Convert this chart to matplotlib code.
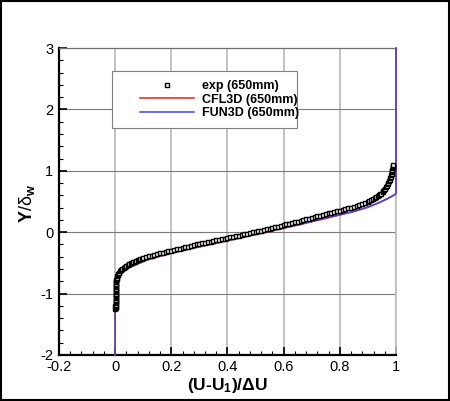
import matplotlib
matplotlib.use("Agg")
import matplotlib.pyplot as plt
from matplotlib.patches import Rectangle
from matplotlib.ticker import MultipleLocator, FixedLocator, FixedFormatter

plt.rcParams['font.family'] = ['Liberation Sans', 'DejaVu Sans']
plt.rcParams['axes.unicode_minus'] = False
plt.rcParams['mathtext.fontset'] = 'custom'
plt.rcParams['mathtext.rm'] = 'Liberation Sans'
plt.rcParams['mathtext.it'] = 'Liberation Sans:italic'
plt.rcParams['mathtext.bf'] = 'Liberation Sans:bold'

exp_low_x = [0.001, 0.002, 0.002, 0.001, 0.002, 0.002, 0.003, 0.002, 0.003, 0.002,
             0.003, 0.003, 0.002, 0.003, 0.003, 0.003, 0.002, 0.003, 0.003, 0.003,
             0.003, 0.003, 0.003, 0.003, 0.004, 0.005, 0.006, 0.008, 0.010, 0.012,
             0.015, 0.018, 0.022, 0.026, 0.030, 0.035, 0.040, 0.045, 0.050, 0.055,
             0.060, 0.065, 0.070, 0.075, 0.080, 0.085, 0.090, 0.095]
exp_low_y = [-1.26, -1.24, -1.22, -1.20, -1.18, -1.16, -1.14, -1.12, -1.10, -1.08,
             -1.06, -1.04, -1.02, -1.00, -0.98, -0.96, -0.94, -0.92, -0.90, -0.88,
             -0.86, -0.84, -0.82, -0.80, -0.78, -0.76, -0.74, -0.72, -0.70, -0.68,
             -0.66, -0.64, -0.62, -0.60, -0.58, -0.565, -0.55, -0.535, -0.52, -0.51,
             -0.50, -0.49, -0.48, -0.47, -0.46, -0.45, -0.44, -0.43]
# middle of the layer
exp_mid_x = [0.10, 0.11, 0.12, 0.13, 0.14, 0.15, 0.16, 0.17, 0.18, 0.19,
             0.20, 0.21, 0.22, 0.23, 0.24, 0.25, 0.26, 0.27, 0.28, 0.29,
             0.30, 0.31, 0.32, 0.33, 0.34, 0.35, 0.36, 0.37, 0.38, 0.39,
             0.40, 0.41, 0.42, 0.43, 0.44, 0.45, 0.46, 0.47, 0.48, 0.49,
             0.50, 0.51, 0.52, 0.53, 0.54, 0.55, 0.56, 0.57, 0.58, 0.59,
             0.60, 0.61, 0.62, 0.63, 0.64, 0.65, 0.66, 0.67, 0.68, 0.69,
             0.70, 0.71, 0.72, 0.73, 0.74, 0.75, 0.76, 0.77, 0.78, 0.79,
             0.80, 0.81, 0.82, 0.83, 0.84, 0.85, 0.86, 0.87, 0.88, 0.89, 0.90]
exp_mid_y = [-0.420, -0.407, -0.395, -0.382, -0.370, -0.357, -0.345, -0.332, -0.320, -0.310,
             -0.300, -0.290, -0.280, -0.267, -0.255, -0.245, -0.235, -0.222, -0.210, -0.200,
             -0.190, -0.182, -0.175, -0.165, -0.155, -0.145, -0.135, -0.125, -0.115, -0.105,
             -0.095, -0.085, -0.075, -0.065, -0.055, -0.045, -0.035, -0.025, -0.015, -0.005,
             0.005, 0.015, 0.025, 0.035, 0.045, 0.058, 0.070, 0.080, 0.090, 0.103,
             0.115, 0.128, 0.140, 0.150, 0.160, 0.173, 0.185, 0.198, 0.210, 0.222,
             0.235, 0.248, 0.260, 0.270, 0.280, 0.293, 0.305, 0.318, 0.330, 0.340,
             0.350, 0.363, 0.375, 0.388, 0.400, 0.413, 0.425, 0.440, 0.455, 0.472, 0.490]
# free-stream side, x -> 1
exp_up_x = [0.905, 0.912, 0.918, 0.924, 0.930, 0.935, 0.940, 0.944, 0.948, 0.952,
            0.955, 0.958, 0.961, 0.964, 0.967, 0.970, 0.973, 0.975, 0.977, 0.979,
            0.981, 0.982, 0.984, 0.985, 0.986, 0.987, 0.988, 0.988, 0.989, 0.989]
exp_up_y = [0.510, 0.525, 0.540, 0.555, 0.570, 0.585, 0.600, 0.615, 0.630, 0.650,
            0.670, 0.690, 0.710, 0.730, 0.755, 0.780, 0.805, 0.830, 0.855, 0.880,
            0.905, 0.930, 0.955, 0.980, 1.000, 1.020, 1.040, 1.060, 1.080, 1.100]

# CFD profiles
fun3d_x = [0.0, 0.0, 0.004, 0.010, 0.018, 0.030, 0.045, 0.060, 0.080, 0.107,
           0.15, 0.20, 0.25, 0.30, 0.35, 0.40, 0.45, 0.50, 0.55, 0.60,
           0.65, 0.70, 0.75, 0.80, 0.85, 0.90, 0.943, 0.97, 0.99, 0.998,
           1.0, 1.0]
fun3d_y = [-2.0, -0.80, -0.76, -0.72, -0.69, -0.64, -0.59, -0.555, -0.51, -0.46,
           -0.40, -0.34, -0.285, -0.235, -0.185, -0.135, -0.085, -0.035, 0.015, 0.07,
           0.12, 0.175, 0.23, 0.285, 0.34, 0.41, 0.49, 0.55, 0.60, 0.62,
           0.64, 3.0]
cfl3d_x = [0.0, 0.0, 0.004, 0.010, 0.018, 0.030, 0.045, 0.060, 0.080, 0.107,
           0.15, 0.20, 0.25, 0.30, 0.35, 0.40, 0.45, 0.50, 0.55, 0.60,
           0.65, 0.70, 0.75, 0.80, 0.85, 0.90, 0.943, 0.97, 0.99, 0.998,
           1.0, 1.0]
cfl3d_y = [-2.0, -0.81, -0.765, -0.725, -0.695, -0.645, -0.595, -0.56, -0.515, -0.465,
           -0.405, -0.345, -0.29, -0.24, -0.19, -0.14, -0.09, -0.04, 0.01, 0.065,
           0.115, 0.17, 0.225, 0.28, 0.335, 0.405, 0.485, 0.545, 0.595, 0.615,
           0.635, 3.0]

x_ticks = [-0.2, 0, 0.2, 0.4, 0.6, 0.8, 1]
x_labels = ['-0.2', '0', '0.2', '0.4', '0.6', '0.8', '1']
y_ticks = [-2, -1, 0, 1, 2, 3]
y_labels = ['-2', '-1', '0', '1', '2', '3']

exp_x = exp_low_x + exp_mid_x + exp_up_x
exp_y = exp_low_y + exp_mid_y + exp_up_y

fig = plt.figure(figsize=(4.5, 4.01), dpi=100)
ax = fig.add_axes([0.131, 0.115, 0.749, 0.765])

l1, = ax.plot(cfl3d_x, cfl3d_y, color='#e02020', lw=1.1, clip_on=False, zorder=3,
              label='CFL3D (650mm)')
l2, = ax.plot(fun3d_x, fun3d_y, color='#4848dc', lw=1.1, clip_on=False, zorder=4,
              label='FUN3D (650mm)')
l0, = ax.plot(exp_x, exp_y, ls='none', marker='s', ms=2.6, mfc='white', mec='black',
              mew=1.0, zorder=5, clip_on=False, label='exp (650mm)')

ax.set_xlim(-0.2, 1)
ax.set_ylim(-2, 3)
ax.xaxis.set_major_locator(FixedLocator(x_ticks))
ax.xaxis.set_major_formatter(FixedFormatter(x_labels))
ax.yaxis.set_major_locator(FixedLocator(y_ticks))
ax.yaxis.set_major_formatter(FixedFormatter(y_labels))
ax.xaxis.set_minor_locator(MultipleLocator(0.04))
ax.yaxis.set_minor_locator(MultipleLocator(0.2))
ax.tick_params(which='major', direction='in', length=6, width=1.2, labelsize=10.5,
               top=False, right=False, pad=4)
ax.tick_params(which='minor', direction='in', length=3, width=0.8,
               top=False, right=False)

# grid: vertical light and wide, horizontal darker and thin
for xv in x_ticks[1:]:
    ax.axvline(xv, color='#bdbdbd', lw=1.3, zorder=1)
for yv in y_ticks[1:-1]:
    ax.axhline(yv, color='#7a7a7a', lw=0.8, zorder=1)

for s in ['left', 'bottom']:
    ax.spines[s].set_linewidth(1.6)
    ax.spines[s].set_color('black')
ax.spines['top'].set_color('#707070')
ax.spines['top'].set_linewidth(0.9)
ax.spines['right'].set_color('#bdbdbd')
ax.spines['right'].set_linewidth(1.2)

ax.set_xlabel('(U-U$_\\mathbf{1}$)/ΔU', fontsize=12.5, fontweight='bold', labelpad=1)
fig.text(27 / 450, 1 - 203 / 401, '$\\mathbf{Y}$/δ$_\\mathbf{w}$', fontsize=13,
         rotation=90, ha='center', va='center')

# legend box
ax.add_patch(Rectangle((0.157, 0.739), 0.549, 0.186, transform=ax.transAxes,
                       facecolor='white', edgecolor='#808080', lw=0.8, zorder=6))
leg = ax.legend(handles=[l0, l1, l2], loc='upper left', bbox_to_anchor=(0.24, 0.895),
                frameon=False, borderpad=0, borderaxespad=0, handlelength=4.3,
                handletextpad=0.7, labelspacing=0.12,
                prop={'weight': 'bold', 'size': 9})
leg.set_zorder(7)

fig.add_artist(Rectangle((0.003, 0.003), 0.994, 0.994, transform=fig.transFigure,
                         fill=False, edgecolor='black', lw=1.5))

fig.savefig('out.png', dpi=100)
